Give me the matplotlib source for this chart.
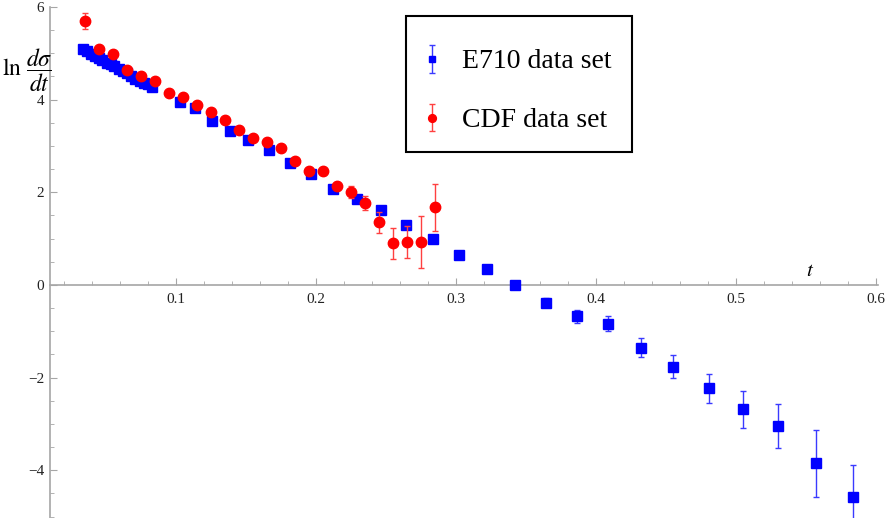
import matplotlib
matplotlib.use("Agg")
import matplotlib.pyplot as plt
from matplotlib.patches import Rectangle
from matplotlib.ticker import MultipleLocator, FuncFormatter

plt.rcParams['font.family'] = ['Liberation Serif', 'DejaVu Serif']
plt.rcParams['mathtext.fontset'] = 'stix'

# E710 data set
e710_t = [0.0335, 0.0365, 0.0390, 0.0420, 0.0450, 0.0475, 0.0505, 0.0535, 0.0560,
          0.0590, 0.0620, 0.0650, 0.0680, 0.0710, 0.0740, 0.0770, 0.0800, 0.0826,
          0.1029, 0.1138, 0.1257, 0.1386, 0.1514, 0.1667, 0.1817, 0.1964, 0.2124,
          0.2295, 0.2464, 0.2643, 0.2836, 0.3024, 0.3221, 0.3424, 0.3645, 0.3862,
          0.4083, 0.4324, 0.4552, 0.4805, 0.5052, 0.5298, 0.5569, 0.5838]
e710_y = [5.09, 5.04, 4.99, 4.95, 4.90, 4.85, 4.79, 4.76, 4.73,
          4.66, 4.62, 4.57, 4.50, 4.45, 4.41, 4.37, 4.33, 4.28,
          3.96, 3.81, 3.55, 3.32, 3.12, 2.91, 2.64, 2.40, 2.07,
          1.85, 1.61, 1.29, 0.99, 0.65, 0.345, 0.00, -0.38, -0.68,
          -0.84, -1.35, -1.76, -2.23, -2.68, -3.05, -3.85, -4.58]
e710_err = [0.03] * 18 + [0.03, 0.03, 0.03, 0.03, 0.03, 0.03, 0.03, 0.03, 0.03,
                          0.03, 0.03, 0.03, 0.03, 0.04, 0.05, 0.06, 0.09, 0.14,
                          0.16, 0.20, 0.25, 0.31, 0.40, 0.47, 0.72, 0.70]

# CDF data set
cdf_t = [0.035, 0.045, 0.055, 0.065, 0.075, 0.085, 0.095, 0.105, 0.115, 0.125,
         0.135, 0.145, 0.155, 0.165, 0.175, 0.185, 0.195, 0.205, 0.215, 0.225,
         0.235, 0.245, 0.255, 0.265, 0.275, 0.285]
cdf_y = [5.70, 5.09, 4.99, 4.63, 4.51, 4.41, 4.15, 4.06, 3.89, 3.73,
         3.56, 3.35, 3.18, 3.09, 2.95, 2.68, 2.47, 2.45, 2.14, 2.00,
         1.76, 1.35, 0.90, 0.93, 0.93, 1.68]
cdf_err = [0.17, 0.04, 0.04, 0.04, 0.04, 0.04, 0.04, 0.04, 0.04, 0.04,
           0.04, 0.04, 0.04, 0.04, 0.05, 0.05, 0.06, 0.07, 0.08, 0.13,
           0.15, 0.23, 0.33, 0.35, 0.56, 0.51]

labels = ["E710 data set", "CDF data set"]

W, H = 885, 518
fig = plt.figure(figsize=(W / 100, H / 100), dpi=100)
ax = fig.add_axes([50 / W, 0, 828 / W, 511 / H])
ax.set_xlim(0.01, 0.6015)
ax.set_ylim(-5.03, 6.0)

gray = '#a6a6a6'
for s in ['top', 'right']:
    ax.spines[s].set_visible(False)
ax.spines['bottom'].set_position(('data', 0))
ax.spines['left'].set_color(gray)
ax.spines['bottom'].set_color(gray)
ax.spines['left'].set_linewidth(1.2)
ax.spines['bottom'].set_linewidth(1.2)

ax.xaxis.set_major_locator(MultipleLocator(0.1))
ax.xaxis.set_minor_locator(MultipleLocator(0.02))
ax.yaxis.set_major_locator(MultipleLocator(2))
ax.yaxis.set_minor_locator(MultipleLocator(0.5))
ax.xaxis.set_major_formatter(FuncFormatter(lambda v, p: f"{v:.1f}" if v > 0.05 else ""))
ax.yaxis.set_major_formatter(FuncFormatter(lambda v, p: f"{v:.0f}".replace('-', '\u2212')))
ax.tick_params(axis='both', which='major', direction='in', length=5, width=0.8,
               color=gray, labelsize=11, labelcolor='#222222')
ax.tick_params(axis='both', which='minor', direction='in', length=3, width=0.6, color=gray)
ax.tick_params(axis='x', pad=6)
ax.tick_params(axis='y', pad=4)

eb1 = ax.errorbar(e710_t, e710_y, yerr=e710_err, fmt='s', color='#0000ff', ms=6.5,
                  ecolor='#3a3aff', elinewidth=1.0, capsize=2.3, capthick=1.0,
                  label=labels[0], zorder=3, clip_on=True)
eb2 = ax.errorbar(cdf_t, cdf_y, yerr=cdf_err, fmt='o', color='#ff0000', ms=7.5,
                  ecolor='#ff4040', elinewidth=1.0, capsize=2.3, capthick=1.0,
                  label=labels[1], zorder=4, clip_on=True)

# legend frame drawn separately
ax.add_patch(Rectangle((406 / W, 1 - 152 / H), 226 / W, 136 / H,
                       transform=fig.transFigure, facecolor='white',
                       edgecolor='black', linewidth=1.5, zorder=5, clip_on=False))
leg = ax.legend(handles=[eb1, eb2], labels=labels, loc='upper left',
                bbox_to_anchor=(406 / W, 1 - 24 / H), bbox_transform=fig.transFigure,
                fontsize=20, frameon=False, borderpad=0.9, labelspacing=1.2,
                handlelength=0.1, handletextpad=1.0, borderaxespad=0, markerscale=0.75)
leg.set_zorder(10)

fig.text(2 / W, 1 - 70 / H, r'$\ln\,\dfrac{d\sigma}{dt}$', fontsize=17,
         ha='left', va='center')
fig.text(810 / W, 1 - 272 / H, r'$t$', fontsize=15, ha='center', va='center')

fig.savefig('out.png', dpi=100)
